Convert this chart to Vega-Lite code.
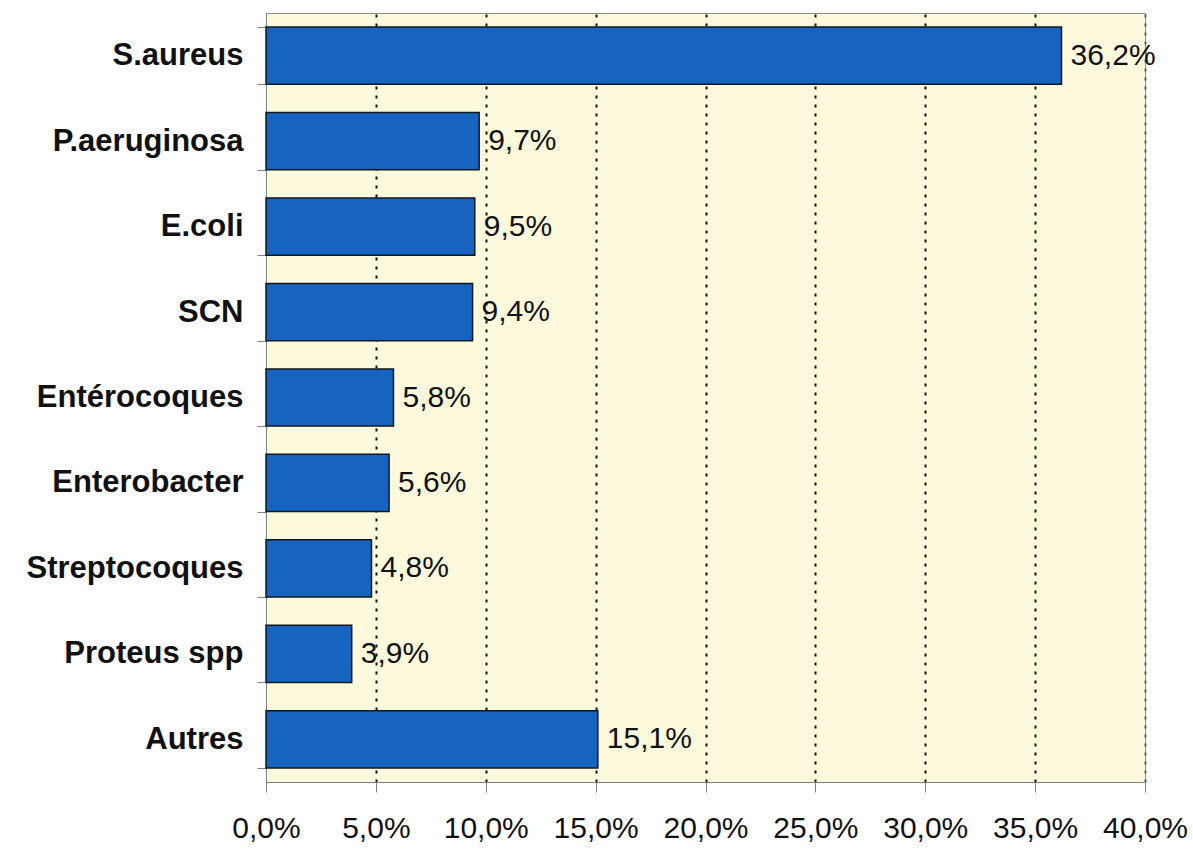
{
  "$schema": "https://vega.github.io/schema/vega-lite/v6.json",
  "width": 879,
  "height": 769,
  "autosize": {"type": "none"},
  "padding": {"left": 266, "top": 13, "right": 48, "bottom": 71},
  "background": "#ffffff",
  "config": {
    "locale": {"number": {"decimal": ",", "thousands": " ", "grouping": [3], "currency": ["", " €"]}},
    "view": {"fill": "#fcf9dc", "stroke": "#8c8c8c", "strokeWidth": 1},
    "font": "Liberation Sans"
  },
  "data": {
    "values": [
      {"name": "S.aureus", "value": 0.362},
      {"name": "P.aeruginosa", "value": 0.097},
      {"name": "E.coli", "value": 0.095},
      {"name": "SCN", "value": 0.094},
      {"name": "Entérocoques", "value": 0.058},
      {"name": "Enterobacter", "value": 0.056},
      {"name": "Streptocoques", "value": 0.048},
      {"name": "Proteus spp", "value": 0.039},
      {"name": "Autres", "value": 0.151}
    ]
  },
  "encoding": {
    "y": {
      "field": "name",
      "type": "nominal",
      "sort": null,
      "title": null,
      "scale": {"paddingInner": 0.33, "paddingOuter": 0.165},
      "axis": {
        "tickBand": "extent",
        "tickSize": 9,
        "tickColor": "#808080",
        "domainColor": "#808080",
        "labelPadding": 14,
        "labelLimit": 0,
        "labelFont": "Liberation Sans",
        "labelFontSize": 31,
        "labelFontWeight": "bold",
        "labelColor": "#111111",
        "grid": false
      }
    },
    "x": {
      "field": "value",
      "type": "quantitative",
      "title": null,
      "scale": {"domain": [0, 0.4], "nice": false},
      "axis": {
        "values": [0, 0.05, 0.1, 0.15, 0.2, 0.25, 0.3, 0.35, 0.4],
        "format": ".1%",
        "tickSize": 10,
        "tickColor": "#808080",
        "domainColor": "#808080",
        "labelPadding": 21,
        "labelFont": "Liberation Sans",
        "labelFontSize": 30,
        "labelColor": "#111111",
        "labelFlush": false,
        "grid": true,
        "gridColor": {"condition": {"test": "datum.value >= 0.399", "value": "#4a6078"}, "value": "#111111"},
        "gridOpacity": {"condition": {"test": "datum.value <= 0.001", "value": 0}, "value": 1},
        "gridWidth": 2,
        "gridDash": [3, 6]
      }
    }
  },
  "layer": [
    {
      "mark": {"type": "bar", "fill": "#1764c0", "stroke": "#101820", "strokeWidth": 1.5}
    },
    {
      "mark": {"type": "text", "align": "left", "baseline": "middle", "dx": 9, "fontSize": 30, "font": "Liberation Sans", "color": "#111111"},
      "encoding": {
        "text": {"field": "value", "type": "quantitative", "format": ".1%"}
      }
    }
  ]
}
